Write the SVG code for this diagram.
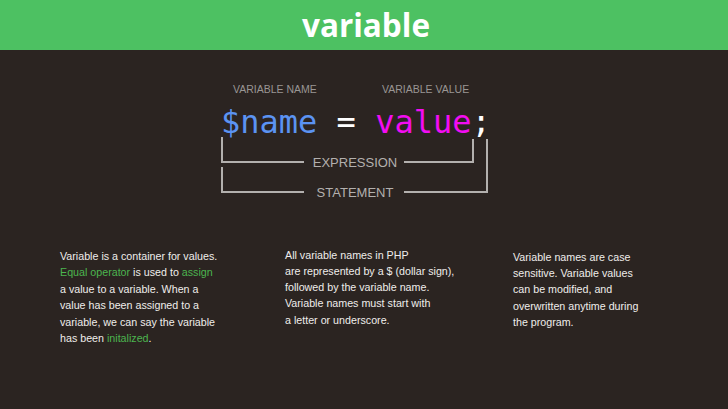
<svg xmlns="http://www.w3.org/2000/svg" width="728" height="409" viewBox="0 0 728 409">
  <style>
    .lbl { font-family: "Liberation Sans", Arial, sans-serif; font-size: 10.5px; fill: #9a9694; }
    .br { font-family: "Liberation Sans", Arial, sans-serif; font-size: 13px; fill: #b3b0ae; }
    .code { font-family: "DejaVu Sans Mono", monospace; font-size: 32px; }
    .para { font-family: "Liberation Sans", Arial, sans-serif; font-size: 10.7px; fill: #efedeb; }
    .hl { fill: #4cb54f; }
    .line { stroke: #b3b0ae; stroke-width: 2; fill: none; }
  </style>
  <rect x="0" y="0" width="728" height="409" fill="#2b2421"/>
  <g id="header">
    <rect x="0" y="0" width="728" height="50" fill="#4dc162"/>
    <text x="366" y="37" text-anchor="middle" font-family="'Open Sans', sans-serif" font-weight="bold" font-size="31.5" fill="#ffffff">variable</text>
  </g>
  <g id="code">
    <text x="233" y="93" class="lbl">VARIABLE NAME</text>
    <text x="382" y="93" class="lbl">VARIABLE VALUE</text>
    <text x="221" y="133" class="code"><tspan fill="#5b93f2">$name</tspan><tspan fill="#ffffff"> = </tspan><tspan fill="#f20df2">value</tspan><tspan fill="#ffffff">;</tspan></text>
  </g>
  <g id="connectors">
    <polyline class="line" points="222,137 222,162 304,162"/>
    <polyline class="line" points="404,162 473,162 473,139"/>
    <polyline class="line" points="222,167 222,192 304,192"/>
    <polyline class="line" points="404,192 487,192 487,139"/>
  </g>
  <g id="expression">
    <text x="355" y="167" text-anchor="middle" class="br">EXPRESSION</text>
  </g>
  <g id="statement">
    <text x="355" y="197" text-anchor="middle" class="br">STATEMENT</text>
  </g>
  <g id="col1">
    <text class="para" x="60" y="259.5">Variable is a container for values.</text>
    <text class="para" x="60" y="276"><tspan class="hl">Equal operator</tspan> is used to <tspan class="hl">assign</tspan></text>
    <text class="para" x="60" y="292.5">a value to a variable. When a</text>
    <text class="para" x="60" y="309">value has been assigned to a</text>
    <text class="para" x="60" y="325.5">variable, we can say the variable</text>
    <text class="para" x="60" y="342">has been <tspan class="hl">initalized</tspan>.</text>
  </g>
  <g id="col2">
    <text class="para" x="285" y="258.5">All variable names in PHP</text>
    <text class="para" x="285" y="274.8">are represented by a $ (dollar sign),</text>
    <text class="para" x="285" y="291">followed by the variable name.</text>
    <text class="para" x="285" y="307.3">Variable names must start with</text>
    <text class="para" x="285" y="323.5">a letter or underscore.</text>
  </g>
  <g id="col3">
    <text class="para" x="513" y="260.8">Variable names are case</text>
    <text class="para" x="513" y="277">sensitive. Variable values</text>
    <text class="para" x="513" y="293.3">can be modified, and</text>
    <text class="para" x="513" y="309.5">overwritten anytime during</text>
    <text class="para" x="513" y="325.8">the program.</text>
  </g>
</svg>
